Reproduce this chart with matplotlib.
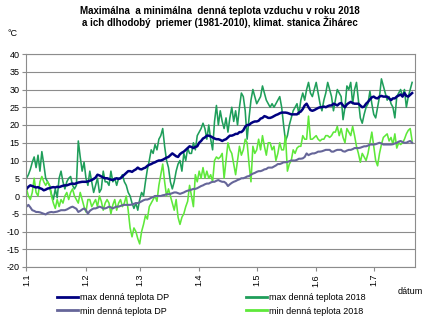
import matplotlib
matplotlib.use("Agg")
import matplotlib.pyplot as plt
import numpy as np

plt.rcParams['font.family'] = ['Liberation Sans', 'DejaVu Sans']

title = "Maximálna  a minimálna  denná teplota vzduchu v roku 2018\na ich dlhodobý  priemer (1981-2010), klimat. stanica Žihárec"
month_ticks = [0, 31, 59, 90, 120, 151, 181]
month_labels = ["1.1", "1.2", "1.3", "1.4", "1.5", "1.6", "1.7"]
y_ticks = list(range(-20, 41, 5))

max_dp = [
    2.0, 2.6, 3.0, 2.8, 2.6, 2.4, 2.5, 2.2, 2.0, 1.6,
    1.8, 2.1, 2.2, 2.4, 2.5, 2.4, 2.6, 2.5, 2.7, 2.9,
    3.0, 3.0, 3.2, 3.4, 3.5, 3.4, 3.6, 3.8, 3.9, 4.0,
    4.0, 4.0, 4.1, 4.3, 4.5, 4.8, 5.2, 6.0, 5.8, 5.5,
    5.2, 5.0, 5.0, 4.8, 4.6, 4.5, 4.8, 5.0, 4.8, 5.0,
    5.5, 6.0, 6.5, 7.0, 7.0, 6.8, 7.2, 7.5, 8.0, 7.6,
    7.5, 7.8, 8.0, 8.5, 8.8, 9.0, 9.3, 9.5, 9.8, 10.0,
    10.0, 10.2, 10.5, 10.8, 11.0, 11.5, 12.0, 11.6, 11.2, 11.0,
    11.8, 12.2, 12.5, 13.0, 13.5, 14.0, 13.8, 13.5, 13.8, 14.0,
    15.0, 15.5, 16.2, 16.5, 17.0, 17.0, 16.8, 16.5, 16.2, 16.0,
    16.0, 15.8, 15.5, 15.8, 16.0, 16.5, 17.0, 17.0, 17.2, 17.5,
    17.5, 18.0, 18.0, 18.5, 19.5, 20.0, 20.0, 20.5, 20.8, 21.0,
    21.0, 21.2, 21.8, 22.0, 22.5, 22.3, 22.0, 22.0, 22.2, 22.5,
    22.8, 23.0, 23.3, 23.5, 23.5, 23.5, 23.4, 23.2, 23.0, 23.0,
    23.0, 23.0, 23.5, 23.8, 24.5, 25.5, 26.0, 25.0, 24.2, 24.0,
    24.2, 24.5, 24.8, 25.0, 25.0, 25.2, 25.0, 25.3, 25.5, 25.5,
    26.0, 25.8, 25.5, 26.0, 26.2, 25.5, 25.0, 25.8, 26.2, 26.5,
    26.2, 26.0, 26.0, 26.0, 25.5, 25.0, 25.2, 26.0, 26.5, 27.2,
    27.8, 28.0, 27.6, 27.5, 28.0, 28.2, 28.0, 28.0, 28.0, 27.5,
    27.0, 27.5, 27.5, 28.0, 28.3, 28.6, 28.0, 29.0, 28.2, 28.0, 28.5, 29.0,
]

min_dp = [
    -3.0, -2.5, -3.2, -4.0, -4.2, -4.5, -4.5, -4.6, -4.8, -5.0,
    -5.2, -4.8, -4.6, -4.5, -4.6, -4.5, -4.4, -4.2, -4.0, -4.0,
    -4.0, -3.8, -3.5, -3.2, -3.0, -3.3, -3.6, -4.5, -4.2, -3.8,
    -3.5, -4.0, -5.0, -4.2, -3.8, -3.5, -3.5, -3.3, -3.0, -3.2,
    -3.5, -3.5, -3.3, -3.0, -3.2, -3.5, -3.2, -3.0, -3.0, -2.8,
    -2.6, -2.5, -2.5, -2.5, -2.5, -2.4, -2.2, -2.0, -2.0, -1.8,
    -1.5, -1.2, -1.0, -1.0, -0.8, -0.5, -0.3, 0.0, 0.0, 0.0,
    0.0, 0.2, 0.3, 0.5, 0.5, 0.6, 0.8, 1.0, 1.0, 0.8,
    0.6, 0.8, 1.0, 1.3, 1.5, 1.6, 1.8, 2.0, 2.0, 2.2,
    2.5, 2.8, 3.0, 3.3, 3.5, 3.5, 3.8, 4.0, 4.0, 4.3,
    4.5, 4.2, 4.0, 4.0, 3.6, 2.8, 3.3, 3.7, 4.0, 4.2,
    4.5, 4.7, 5.0, 5.0, 5.2, 5.5, 5.6, 6.0, 6.3, 6.5,
    6.8, 7.0, 7.0, 7.2, 7.5, 7.6, 8.0, 8.0, 8.0, 8.3,
    8.6, 9.0, 9.0, 9.2, 9.5, 9.5, 9.6, 9.8, 10.0, 10.0,
    10.0, 10.2, 10.5, 10.5, 10.6, 11.0, 12.0, 11.5, 11.8, 12.0,
    12.0, 12.2, 12.5, 12.5, 12.6, 12.8, 13.0, 13.0, 13.0, 12.5,
    12.5, 12.8, 13.0, 13.0, 13.0, 12.6, 12.5, 12.8, 13.0, 13.0,
    13.2, 13.5, 13.5, 13.5, 13.6, 13.8, 14.0, 14.0, 14.2, 14.5,
    14.5, 14.5, 14.6, 14.8, 15.0, 14.8, 14.5, 14.5, 14.5, 14.5,
    14.5, 14.6, 14.8, 15.0, 15.3, 15.5, 15.2, 15.0, 15.0, 15.3, 15.5, 15.0,
]

max_2018 = [
    5, 6, 7.5, 9.5, 11, 8, 11.5, 7, 12.5, 9,
    5, 4, 3, 0.5, -1, 2, -0.5, 5, 7, 4,
    2, 4, 5, 5.5, 3, 2, 3, 15.5, 11, 7,
    9.5, 5, 3, 7, 4, 1, 3, 5, 1, 2,
    7, 4, 4, 3, 7, 4, 5, 3, 5, 5,
    6, 4, 3, 1, 0, -2, -3.5, -2, -4, -1,
    1, 0, 4, 7.5, 10, 13, 12, 14.5, 13, 16,
    17, 19, 14, 10, 8, 4, 2, 4, 7, 9,
    10, 7, 12, 10, 13.5, 12, 12, 15, 13, 17,
    18, 19, 20.5, 19, 16, 20, 16, 13, 21, 25.5,
    20, 24, 21, 19, 22, 18, 22, 25, 21, 24,
    20, 25, 29, 28, 24, 16, 22, 27, 30, 28,
    26, 27, 28, 31, 29, 27, 26, 25, 26, 25,
    26, 27, 28, 25, 20, 15.5, 17, 20, 22, 24,
    25, 26, 23, 27, 29, 27, 30, 32, 29, 28,
    30, 32, 29, 26, 24, 27, 29, 32, 30, 28,
    24, 27, 30, 29, 28, 21.5, 25, 31, 30, 32,
    26, 30, 32, 27, 22, 20.5, 23, 25, 26, 29.5,
    26, 23, 22, 25, 28, 33, 31, 29, 27, 28,
    26, 25, 22, 28, 29, 30, 28, 30, 25, 28, 30, 32,
]

min_2018 = [
    2, 0, -1, 1, 5, 1, 0, 4, 5.5, 4,
    3, 4, 3, 0, -2, -3.5, -1, -3, -1, -2,
    0, 1, -1, 1, 2, 0, -1, -2, 1, -1,
    -3, -4.5, -1, -1, -3, -2, -1, -3, 0, -1.5,
    -4, -2, -1, -2, -5, -2.5, -1, -4, -2, -1,
    -3, -2, 0, -4, -9, -11.5, -9, -10, -12, -13.5,
    -10, -8, -5.5, -6.5, -3, -2, -1, 0, -1.5, 3,
    6, 9, 4, 0, 2, 0, -2, -4, -1, -6,
    -8, -6, -5, -3, -1.5, 3, 0, -3, 6, 4,
    7, 5, 8, 5, 7, 5, 6, 4, 10, 11,
    10.5, 11, 12, 5, 10, 15, 13, 12, 9, 6,
    10, 14, 11.5, 13, 16, 15, 9, 4, 14, 12,
    13, 16, 13, 17, 14, 11.5, 15, 15, 13, 14,
    10, 12, 15, 13, 13, 17, 7, 9, 10, 13,
    12, 13.5, 14, 14, 17, 16, 16, 22.5, 16, 16,
    16.5, 17, 16, 15.5, 16, 16, 17, 17, 16.5, 17,
    18, 18, 19.6, 17, 19, 16.5, 15, 19, 18, 17,
    19.6, 17, 14, 12, 9.5, 12, 11, 10, 12, 15,
    18, 14, 10, 8.5, 12, 14.5, 16.5, 17, 17.5, 15.5,
    16.5, 14.5, 17.5, 13.5, 15, 14.5, 15, 16, 17.5, 18.5, 19, 15.5,
]

series = [
    ("max denná teplota DP", max_dp, "#000080", 1.8),
    ("max denná teplota 2018", max_2018, "#1f9e5a", 1.15),
    ("min denná teplota DP", min_dp, "#666699", 1.5),
    ("min denná teplota 2018", min_2018, "#5ee83a", 1.15),
]

fig = plt.figure(figsize=(4.39, 3.34), dpi=100)
ax = fig.add_axes([26.5 / 439, 1 - 267 / 334, (415 - 26.5) / 439, (267 - 54) / 334])

ax.set_ylim(-20, 40)
ax.set_xlim(0, 202.5)
ax.set_yticks(y_ticks)
ax.set_yticklabels([str(v) for v in y_ticks], fontsize=6.5)
ax.set_xticks(month_ticks)
ax.set_xticklabels(month_labels, rotation=90, fontsize=6.5)
ax.grid(axis="y", color="#8c8c8c", linewidth=0.8)
ax.set_axisbelow(True)
for side in ["top", "right", "left", "bottom"]:
    ax.spines[side].set_color("#8c8c8c")
    ax.spines[side].set_linewidth(0.8)
ax.tick_params(axis="both", length=3, width=0.8, color="#8c8c8c", pad=2)

order = [1, 3, 2, 0]
lines = {}
for i in order:
    name, vals, col, lw = series[i]
    ln, = ax.plot(np.arange(len(vals)), vals, color=col, linewidth=lw, label=name)
    lines[i] = ln

handles = [lines[0], lines[2], lines[1], lines[3]]
leg = fig.legend(handles, [series[0][0], series[2][0], series[1][0], series[3][0]],
                 loc="upper left", bbox_to_anchor=(57 / 439, 1 - 293.5 / 334), ncol=2,
                 frameon=False, fontsize=6.5, handlelength=2.3, handletextpad=0.2,
                 columnspacing=8.6, labelspacing=0.45, borderaxespad=0, borderpad=0)
for h in leg.get_lines():
    h.set_linewidth(2.0)

fig.text(220 / 439, 1 - 17 / 334, title, ha="center", va="center",
         fontsize=7, fontweight="bold", linespacing=1.1)
fig.text(8 / 439, 1 - 33 / 334, "°C", ha="left", va="center", fontsize=6.5)
fig.text(410 / 439, 1 - 291 / 334, "dátum", ha="center", va="center", fontsize=6.5)

fig.savefig("out.png", dpi=100)
